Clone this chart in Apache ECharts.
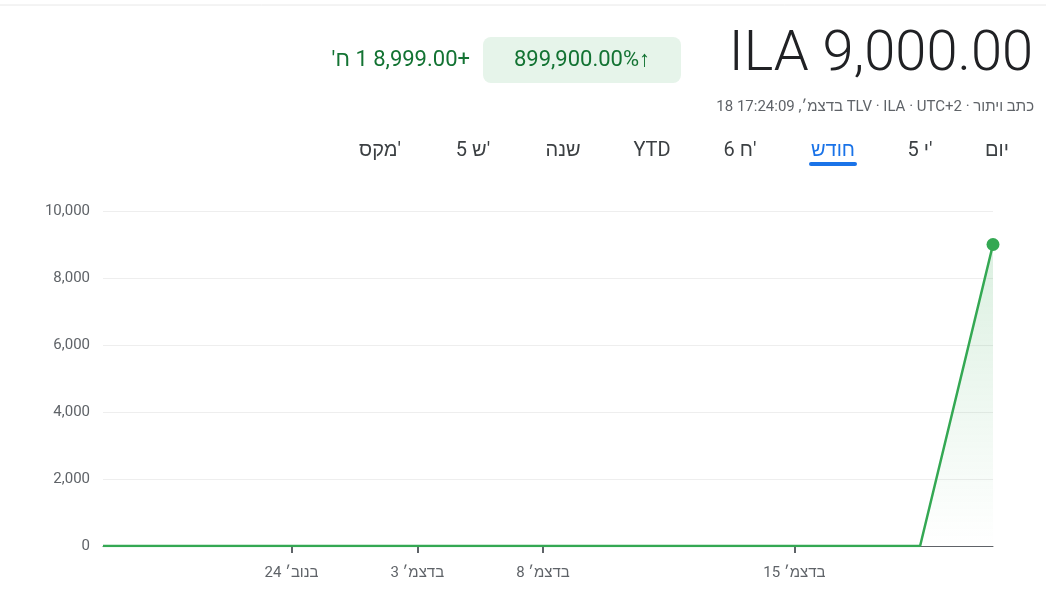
<!DOCTYPE html>
<html>
<head>
<meta charset="utf-8">
<script src="https://cdn.jsdelivr.net/npm/echarts@6/dist/echarts.min.js"></script>
<style>
  html, body { margin: 0; padding: 0; background: #fff; }
  #chart { width: 1046px; height: 603px; }
</style>
</head>
<body>
<div id="chart"></div>
<script>
// day index positions of the price points (trading days from start of window)
const pointIndex = [0, 3, 5, 7, 11, 13, 14.16];
const pointValues = [1, 1, 1, 1, 1, 1, 9000];
const tickIndex = [3, 5, 7, 11];
const tickLabels = ['24 בנוב׳', '3 בדצמ׳', '8 בדצמ׳', '15 בדצמ׳'];
const yTicks = [0, 2000, 4000, 6000, 8000, 10000];
const rangeTabs = ['יום', "5 י'", 'חודש', "6 ח'", 'YTD', 'שנה', "5 ש'", "מקס'"];
const tabX = [997, 920, 833, 740, 652, 563, 473, 380];

const font = 'Roboto, "Noto Sans", Arial, sans-serif';
const LRE = '\u202A', LRO = '\u202D', PDF = '\u202C';
const chart = echarts.init(document.getElementById('chart'));

const graphics = [
  { type: 'line', shape: { x1: 0, y1: 5, x2: 1046, y2: 5 }, style: { stroke: '#e8e8e8', lineWidth: 1 } },
  { type: 'text', right: 13, top: 28, style: { text: 'ILA 9,000.00', font: '300 56px ' + font, fill: '#202124' } },
  { type: 'rect', shape: { x: 483, y: 37, width: 198, height: 46, r: 8 }, style: { fill: '#e6f4ea' } },
  { type: 'text', x: 582, y: 60, style: { text: '899,900.00%\u2191', font: '22px ' + font, fill: '#137333', align: 'center', verticalAlign: 'middle' } },
  { type: 'text', x: 470, y: 60, style: { text: LRO + "'ח 1 8,999.00+" + PDF, font: '22px ' + font, fill: '#137333', align: 'right', verticalAlign: 'middle' } },
  { type: 'text', x: 1034, y: 107, style: { text: '18 בדצמ׳, 17:24:09 TLV · ILA · UTC+2 · כתב ויתור', font: '15px ' + font, fill: '#5f6368', align: 'right', verticalAlign: 'middle' } },
  { type: 'rect', shape: { x: 809, y: 162, width: 48, height: 4, r: 2 }, style: { fill: '#1a73e8' } }
];
rangeTabs.forEach((t, i) => {
  graphics.push({
    type: 'text', x: tabX[i], y: 151,
    style: { text: LRE + t + PDF, font: '20px ' + font, fill: t === 'חודש' ? '#1a73e8' : '#3c4043', align: 'center', verticalAlign: 'middle' }
  });
});

chart.setOption({
  animation: false,
  graphic: graphics,
  grid: { left: 103, right: 53, top: 211, bottom: 57 },
  xAxis: {
    type: 'value',
    min: 0,
    max: 14.16,
    axisLine: { show: true, lineStyle: { color: '#5f6368', width: 1 } },
    axisTick: { show: true, customValues: tickIndex, length: 7, lineStyle: { color: '#5f6368', width: 2 } },
    axisLabel: {
      customValues: tickIndex,
      formatter: v => tickLabels[tickIndex.indexOf(v)],
      color: '#5f6368', fontSize: 15, fontFamily: font, margin: 20
    },
    splitLine: { show: false }
  },
  yAxis: {
    type: 'value',
    min: 0,
    max: 10000,
    interval: 2000,
    axisLine: { show: false },
    axisTick: { show: false },
    axisLabel: { color: '#5f6368', fontSize: 15, fontFamily: font, margin: 13, formatter: v => v.toLocaleString('en-US') },
    splitLine: { lineStyle: { color: '#eeeeee' } }
  },
  series: [{
    type: 'line',
    data: pointIndex.map((x, i) => [x, pointValues[i]]),
    symbol: 'circle',
    symbolSize: (v, p) => p.dataIndex === pointIndex.length - 1 ? 13 : 0,
    showSymbol: true,
    itemStyle: { color: '#34a853' },
    lineStyle: { color: '#34a853', width: 2.5 },
    areaStyle: {
      color: new echarts.graphic.LinearGradient(0, 0, 0, 1, [
        { offset: 0, color: 'rgba(52,168,83,0.25)' },
        { offset: 1, color: 'rgba(52,168,83,0)' }
      ])
    }
  }]
});
</script>
</body>
</html>
